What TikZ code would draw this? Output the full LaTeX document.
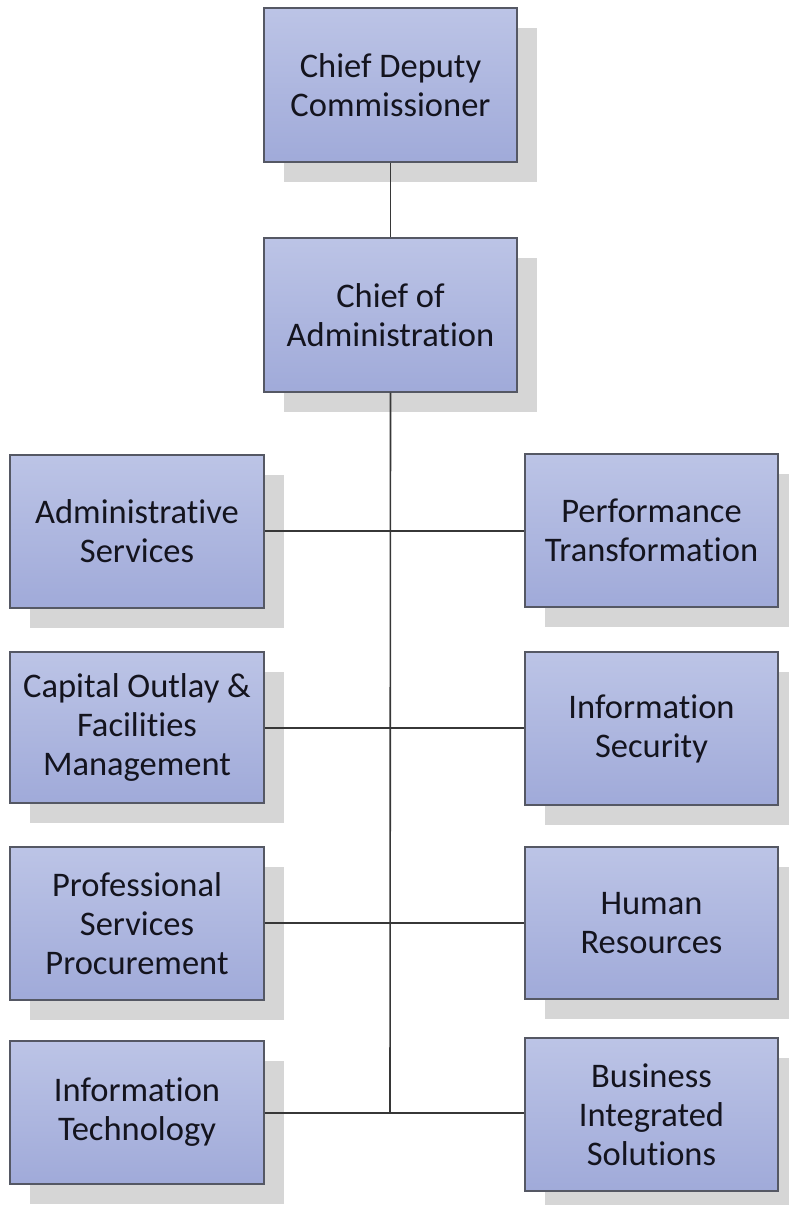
\documentclass[tikz,border=0pt]{standalone}
\usepackage{fontspec}
\setmainfont[RawFeature={-liga;-clig;-dlig}]{Carlito}
\usetikzlibrary{shadows,calc}
\definecolor{boxtop}{RGB}{188,196,230}
\definecolor{boxbot}{RGB}{160,170,217}
\definecolor{boxline}{RGB}{85,88,100}
\definecolor{shadowgray}{RGB}{214,214,214}
\definecolor{linkcol}{RGB}{55,55,55}
\definecolor{txtcol}{RGB}{20,20,30}
\tikzset{
  orgbox/.style={draw=boxline, line width=1.3pt, rectangle, inner sep=0pt,
    top color=boxtop, bottom color=boxbot, text=txtcol,
    align=center, font=\fontsize{34.5}{39}\selectfont,
    drop shadow={shadow xshift=20pt, shadow yshift=-20pt, fill=shadowgray, opacity=1, draw=none}},
  link/.style={draw=linkcol, line width=1.6pt}
}
\newcommand{\orgnode}[6]{%
  \node[orgbox, minimum width={(#4-#2)*1pt}, minimum height={(#5-#3)*1pt}]
    (#1) at ({(#2+#4)/2*1pt},{-(#3+#5)/2*1pt}) {#6};}
\begin{document}
\begin{tikzpicture}[x=1pt,y=1pt]
\useasboundingbox (0,0) rectangle (788,-1205);
\orgnode{cdc}{264}{8}{517}{162}{Chief Deputy\\Commissioner}
\orgnode{coa}{264}{238}{517}{392}{Chief of\\Administration}
\orgnode{as}{10}{455}{264}{608}{Administrative\\Services}
\orgnode{pt}{525}{454}{778}{607}{Performance\\Transformation}
\orgnode{cofm}{10}{652}{264}{803}{Capital Outlay \&\\Facilities\\Management}
\orgnode{is}{525}{652}{778}{805}{Information\\Security}
\orgnode{psp}{10}{847}{264}{1000}{Professional\\Services\\Procurement}
\orgnode{hr}{525}{847}{778}{999}{Human\\Resources}
\orgnode{it}{10}{1041}{264}{1184}{Information\\Technology}
\orgnode{bis}{525}{1038}{778}{1191}{Business\\Integrated\\Solutions}
\coordinate (j1) at (390,-531);
\coordinate (j2) at (390,-728);
\coordinate (j3) at (390,-923);
\coordinate (j4) at (390,-1113);
\draw[link] (cdc.south) -- (coa.north);
\draw[link] (coa.south) -- (j4);
\draw[link] (as.east |- j1) -- (pt.west |- j1);
\draw[link] (cofm.east |- j2) -- (is.west |- j2);
\draw[link] (psp.east |- j3) -- (hr.west |- j3);
\draw[link] (it.east |- j4) -- (bis.west |- j4);
\end{tikzpicture}
\end{document}
